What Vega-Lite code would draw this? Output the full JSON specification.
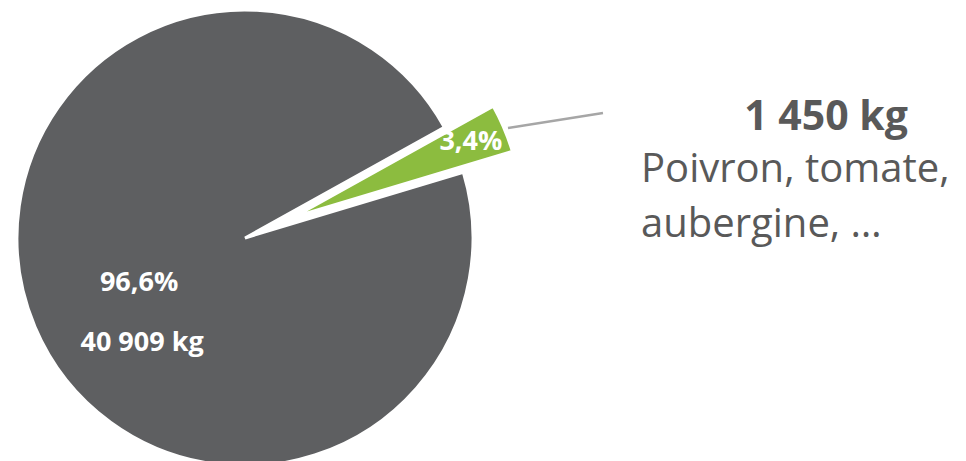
{
  "$schema": "https://vega.github.io/schema/vega-lite/v6.json",
  "width": 966,
  "height": 461,
  "autosize": "none",
  "padding": 0,
  "background": "white",
  "config": {"view": {"stroke": null}, "font": "Open Sans"},
  "data": {
    "values": [
      {"category": "Autres légumes", "kg": 40909, "pct": "96,6%", "kgLabel": "40 909 kg", "desc": ""},
      {"category": "Poivron, tomate, aubergine, …", "kg": 1450, "pct": "3,4%", "kgLabel": "1 450 kg", "desc": ["Poivron, tomate,", "aubergine, …"]}
    ]
  },
  "encoding": {
    "theta": {"field": "kg", "type": "quantitative", "stack": true, "scale": {"range": [1.0636, 7.3468]}},
    "order": {"field": "kg", "sort": "ascending"},
    "color": {
      "field": "category",
      "type": "nominal",
      "scale": {"domain": ["Autres légumes", "Poivron, tomate, aubergine, …"], "range": ["#5E5F61", "#8CBC3F"]},
      "legend": null
    }
  },
  "layer": [
    {
      "mark": {"type": "arc", "x": 245, "y": 238, "outerRadius": 228, "stroke": "white", "strokeWidth": 3},
      "encoding": {"opacity": {"condition": {"test": "datum.kg < 5000", "value": 0}, "value": 1}}
    },
    {
      "mark": {"type": "arc", "x": 294, "y": 217, "outerRadius": 228, "stroke": "white", "strokeWidth": 3},
      "encoding": {"opacity": {"condition": {"test": "datum.kg < 5000", "value": 1}, "value": 0}}
    },
    {
      "mark": {"type": "text", "x": 245, "y": 238, "radius": 115, "fontSize": 27, "fontWeight": "bold", "align": "center", "baseline": "middle"},
      "encoding": {
        "text": {"field": "pct"},
        "color": {"value": "white"},
        "opacity": {"condition": {"test": "datum.kg < 5000", "value": 0}, "value": 1}
      }
    },
    {
      "mark": {"type": "text", "x": 245, "y": 238, "radius": 115, "dx": 3, "dy": 60, "fontSize": 27, "fontWeight": "bold", "align": "center", "baseline": "middle"},
      "encoding": {
        "text": {"field": "kgLabel"},
        "color": {"value": "white"},
        "opacity": {"condition": {"test": "datum.kg < 5000", "value": 0}, "value": 1}
      }
    },
    {
      "mark": {"type": "text", "x": 294, "y": 217, "radius": 192, "fontSize": 27, "fontWeight": "bold", "align": "center", "baseline": "middle"},
      "encoding": {
        "text": {"field": "pct"},
        "color": {"value": "white"},
        "opacity": {"condition": {"test": "datum.kg < 5000", "value": 1}, "value": 0}
      }
    },
    {
      "transform": [{"filter": "datum.kg < 5000"}],
      "mark": {"type": "rule", "stroke": "#A6A6A6", "strokeWidth": 2.5},
      "encoding": {
        "theta": null, "order": null, "color": null,
        "x": {"value": 508}, "y": {"value": 128}, "x2": {"value": 603}, "y2": {"value": 113}
      }
    },
    {
      "transform": [{"filter": "datum.kg < 5000"}],
      "mark": {"type": "text", "x": 826, "y": 130, "fontSize": 41, "fontWeight": "bold", "fill": "#595959", "align": "center", "baseline": "alphabetic"},
      "encoding": {"theta": null, "order": null, "color": null, "text": {"field": "kgLabel"}}
    },
    {
      "transform": [{"filter": "datum.kg < 5000"}],
      "mark": {"type": "text", "x": 641, "y": 182, "fontSize": 40, "fill": "#595959", "align": "left", "baseline": "alphabetic", "lineHeight": 55},
      "encoding": {"theta": null, "order": null, "color": null, "text": {"field": "desc"}}
    }
  ]
}
